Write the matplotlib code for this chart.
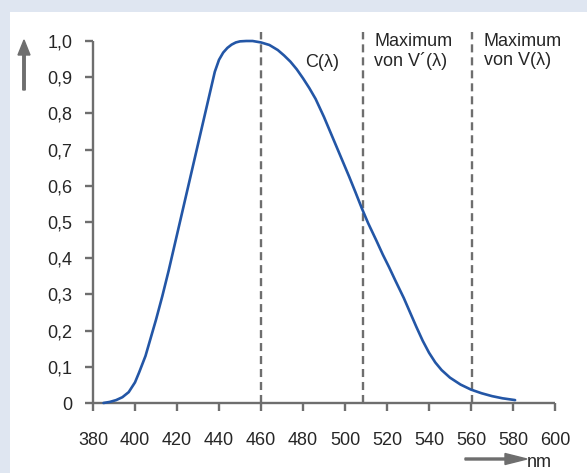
import matplotlib.pyplot as plt
from matplotlib.patches import Rectangle, FancyArrow
import numpy as np

plt.rcParams['font.family'] = ['Liberation Sans', 'DejaVu Sans']

# C(lambda) curve
wavelength = [385, 388, 391, 394, 397, 400, 402, 405, 408, 410, 413, 416, 420, 425,
              430, 435, 438, 440, 442, 444, 446, 448, 450, 453, 456, 460, 464,
              468, 471, 474, 477, 480, 483, 486, 490, 494, 498, 502, 505, 508,
              511, 515, 518, 521, 524, 528, 531, 534, 537, 540, 543, 546, 550,
              555, 560, 565, 570, 575, 581]
c_values = [0.0, 0.003, 0.008, 0.016, 0.03, 0.057, 0.085, 0.13, 0.19, 0.23, 0.295,
            0.365, 0.465, 0.59, 0.715, 0.84, 0.915, 0.948, 0.968, 0.981, 0.99,
            0.996, 0.999, 1.0, 1.0, 0.996, 0.989, 0.975, 0.96, 0.943, 0.922,
            0.897, 0.87, 0.84, 0.79, 0.735, 0.68, 0.625, 0.582, 0.538, 0.497,
            0.448, 0.41, 0.375, 0.338, 0.29, 0.25, 0.21, 0.172, 0.139, 0.112,
            0.091, 0.07, 0.051, 0.037, 0.027, 0.019, 0.013, 0.008]

markers = [460, 508.5, 560.5]
marker_labels = [r'C(λ)', 'Maximum\nvon V´(λ)', 'Maximum\nvon V(λ)']

x_ticks = [380, 400, 420, 440, 460, 480, 500, 520, 540, 560, 580, 600]
y_ticks = [0, 0.1, 0.2, 0.3, 0.4, 0.5, 0.6, 0.7, 0.8, 0.9, 1.0]
y_tick_labels = ['0', '0,1', '0,2', '0,3', '0,4', '0,5', '0,6', '0,7', '0,8', '0,9', '1,0']

W, H = 587, 473
fs = 13
txt = '#262626'
gray = '#6e6e6e'

fig = plt.figure(figsize=(W / 100, H / 100), dpi=100, facecolor='#dfe6f1')
fig.patches.append(Rectangle((10 / W, 0), 1, 1 - 12 / H, transform=fig.transFigure,
                             facecolor='white', edgecolor='none', zorder=-5))

ax = fig.add_axes([93 / W, 70 / H, 462 / W, 362 / H])
ax.set_facecolor('none')
ax.set_xlim(380, 600)
ax.set_ylim(0, 1.0)

for s in ['top', 'right']:
    ax.spines[s].set_visible(False)
for s in ['left', 'bottom']:
    ax.spines[s].set_color(gray)
    ax.spines[s].set_linewidth(1.7)
    ax.spines[s].set_capstyle('butt')

ax.set_xticks(x_ticks)
ax.set_yticks(y_ticks)
ax.set_yticklabels(y_tick_labels)
ax.tick_params(axis='x', length=6, width=1.7, color=gray, pad=15, labelsize=fs,
               labelcolor=txt)
ax.tick_params(axis='y', length=6, width=1.7, color=gray, pad=9, labelsize=fs,
               labelcolor=txt)

# dashed reference lines
for m in markers:
    ax.plot([m, m], [0, 1.025], color=gray, lw=1.7, dashes=(3.4, 2.1),
            clip_on=False, zorder=2)

ax.plot(wavelength, c_values, color='#2356a6', lw=1.9, clip_on=False, zorder=3,
        solid_capstyle='round', solid_joinstyle='round')

ax.text(481, 0.94, marker_labels[0], fontsize=fs, color=txt, va='center')
for m, lab in zip(markers[1:], marker_labels[1:]):
    ax.text(m + 5.5, 1.022, lab, fontsize=fs, color=txt, va='top',
            linespacing=1.12)

# axis arrows
fig.add_artist(FancyArrow(24 / W, 1 - 90 / H, 0, 50 / H, width=2 / H,
                          head_width=12 / W, head_length=15 / H,
                          length_includes_head=True, color=gray,
                          transform=fig.transFigure))
fig.add_artist(FancyArrow(465 / W, 1 - 459 / H, 62 / W, 0, width=2 / H,
                          head_width=11 / H, head_length=22 / W,
                          length_includes_head=True, color=gray,
                          transform=fig.transFigure))
fig.text(527 / W, 1 - 462 / H, 'nm', fontsize=fs, color=txt, va='center')

plt.savefig('out.png', dpi=100, facecolor=fig.get_facecolor())
